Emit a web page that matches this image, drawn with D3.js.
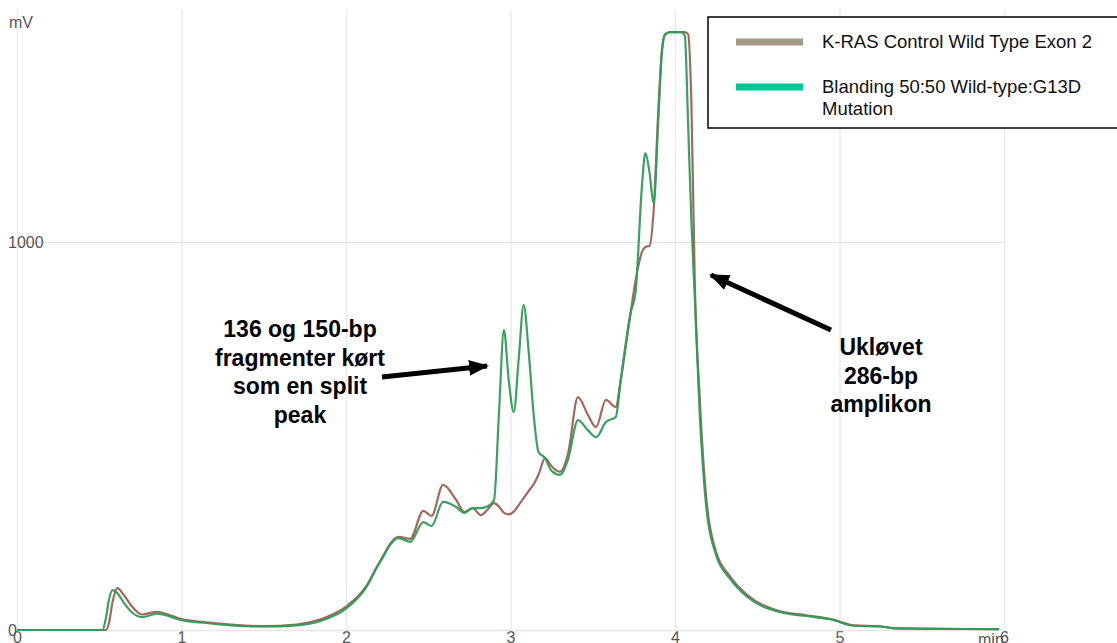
<!DOCTYPE html>
<html>
<head>
<meta charset="utf-8">
<script src="https://cdn.jsdelivr.net/npm/d3@7"></script>
<style>
  html, body { margin: 0; padding: 0; background: #fff; }
  svg { display: block; font-family: "Liberation Sans", Arial, sans-serif; }
</style>
</head>
<body>
<div id="chart"></div>
<script>
// retention time (min)
const time = [
  0, 0.52, 0.54, 0.56, 0.58, 0.61, 0.65, 0.7, 0.76, 0.85,
  0.95, 1.0, 1.15, 1.3, 1.5, 1.7, 1.85, 2.0, 2.12, 2.2,
  2.32, 2.39, 2.47, 2.52, 2.59, 2.67, 2.72, 2.77, 2.82, 2.86,
  2.9, 2.93, 2.96, 2.99, 3.02, 3.05, 3.08, 3.11, 3.14, 3.17,
  3.21, 3.25, 3.3, 3.35, 3.41, 3.47, 3.52, 3.58, 3.64, 3.67,
  3.73, 3.76, 3.8, 3.82, 3.845, 3.87, 3.9, 3.92, 3.94, 3.97,
  4.04, 4.06, 4.08, 4.1, 4.12, 4.15, 4.19, 4.24, 4.34, 4.44,
  4.64, 4.8, 4.95, 5.09, 5.24, 5.35, 5.6, 5.97
];

// K-RAS Control Wild Type Exon 2 (mV)
const control = [
  0, 0, 0, 20, 70, 108, 90, 60, 40, 47,
  35, 28, 20, 14, 10, 14, 28, 60, 111, 172,
  240, 235, 307, 294, 374, 335, 304, 314, 296, 310,
  327, 318, 302, 298, 305, 322, 340, 358, 375, 400,
  443, 422, 408, 455, 600, 555, 523, 593, 575, 644,
  817, 900, 975, 987, 990, 1080, 1350, 1490, 1535, 1541,
  1541, 1541, 1535, 1350, 900, 600, 340, 215, 135, 90,
  48, 38, 28, 12, 10, 4, 3, 2
];

// Blanding 50:50 Wild-type:G13D Mutation (mV)
const mixture = [
  0, 0, 30, 80, 103, 95, 70, 45, 33, 42,
  32, 25, 18, 12, 9, 12, 24, 55, 108, 170,
  237, 227, 278, 268, 330, 317, 302, 314, 314, 318,
  335, 560, 773, 640, 562, 700, 838, 720, 559, 459,
  443, 410, 400, 440, 541, 515, 497, 536, 549, 644,
  817, 870, 1150, 1229, 1180, 1100, 1330, 1490, 1535, 1541,
  1541, 1530, 1300, 1050, 860, 560, 317, 206, 129, 85,
  46, 36, 27, 11, 9, 4, 3, 2
];

const xTicks = [0, 1, 2, 3, 4, 5, 6];
const yTicks = [0, 1000];
const legendLabels = [
  ["K-RAS Control Wild Type Exon 2"],
  ["Blanding 50:50 Wild-type:G13D", "Mutation"]
];
const leftNote = ["136 og 150-bp", "fragmenter kørt", "som en split", "peak"];
const rightNote = ["Ukløvet", "286-bp", "amplikon"];

const font = '"Liberation Sans", Arial, sans-serif';
const width = 1117, height = 643;
const svg = d3.select('#chart').append('svg')
  .attr('width', width).attr('height', height);

const x = d3.scaleLinear().domain([0, 6]).range([17, 1004]);
const y = d3.scaleLinear().domain([0, 1000]).range([630, 242]);

// grid + x axis
const xAxis = svg.append('g')
  .attr('transform', `translate(0,${y(0)})`)
  .call(d3.axisBottom(x).tickValues(xTicks).tickSize(-(y(0) - 10)).tickPadding(2).tickFormat(d3.format('d')))
  .attr('font-family', font).attr('font-size', 16);
xAxis.select('.domain').remove();
xAxis.selectAll('line').attr('stroke', '#e9e9e9').attr('stroke-width', 1.3);
xAxis.selectAll('text').attr('fill', '#555');

const yAxis = svg.append('g')
  .attr('transform', `translate(${x(0)},0)`)
  .call(d3.axisLeft(y).tickValues(yTicks).tickSize(-(x(6) - x(0))).tickPadding(0).tickFormat(d3.format('d')))
  .attr('font-family', font).attr('font-size', 16);
yAxis.select('.domain').remove();
yAxis.selectAll('line').attr('stroke', '#e6e6e6').attr('stroke-width', 1.3);
yAxis.selectAll('text')
  .attr('fill', '#555')
  .attr('text-anchor', 'start').attr('x', -9).attr('dy', '0.35em');

svg.append('text').attr('x', 9).attr('y', 28)
  .attr('fill', '#555').attr('font-size', 16).text('mV');
svg.append('text').attr('x', 978).attr('y', 645)
  .attr('fill', '#555').attr('font-size', 16).text('min');

// traces
const line = series => d3.line()
  .x((d, i) => x(time[i]))
  .y(d => y(d))
  .curve(d3.curveMonotoneX)(series);

svg.append('path').attr('d', line(control))
  .attr('fill', 'none').attr('stroke', '#a4675c').attr('stroke-width', 2.2);
svg.append('path').attr('d', line(mixture))
  .attr('fill', 'none').attr('stroke', '#2f9c58').attr('stroke-width', 2.2)
  .attr('stroke-opacity', 0.95);

// legend
const legend = svg.append('g');
legend.append('rect')
  .attr('x', 708).attr('y', 17).attr('width', 430).attr('height', 111)
  .attr('fill', '#fff').attr('stroke', '#000').attr('stroke-width', 1.5);
const legendColors = ['#a89a84', '#00c896'];
const legendY = [42, 87];
legendLabels.forEach((lines, i) => {
  legend.append('line')
    .attr('x1', 736).attr('x2', 803).attr('y1', legendY[i]).attr('y2', legendY[i])
    .attr('stroke', legendColors[i]).attr('stroke-width', 7);
  lines.forEach((t, j) => {
    legend.append('text')
      .attr('x', 822).attr('y', legendY[i] + 6 + j * 22)
      .attr('font-size', 18.5).attr('fill', '#111').text(t);
  });
});

// annotations
const defs = svg.append('defs');
defs.append('marker')
  .attr('id', 'head').attr('markerUnits', 'userSpaceOnUse')
  .attr('viewBox', '0 0 20 16').attr('refX', 18).attr('refY', 8)
  .attr('markerWidth', 20).attr('markerHeight', 16).attr('orient', 'auto')
  .append('path').attr('d', 'M0,0 L20,8 L0,16 Z').attr('fill', '#000');

const note = (lines, cx, y0) => {
  lines.forEach((t, i) => {
    svg.append('text')
      .attr('x', cx).attr('y', y0 + i * 28.5)
      .attr('text-anchor', 'middle').attr('font-size', 23)
      .attr('font-weight', 'bold').attr('fill', '#000').text(t);
  });
};
note(leftNote, 300, 337);
note(rightNote, 881, 355);

svg.append('line')
  .attr('x1', 382).attr('y1', 377).attr('x2', 487).attr('y2', 366)
  .attr('stroke', '#000').attr('stroke-width', 5).attr('marker-end', 'url(#head)');
svg.append('line')
  .attr('x1', 831).attr('y1', 330).attr('x2', 711).attr('y2', 275)
  .attr('stroke', '#000').attr('stroke-width', 5).attr('marker-end', 'url(#head)');
</script>
</body>
</html>
